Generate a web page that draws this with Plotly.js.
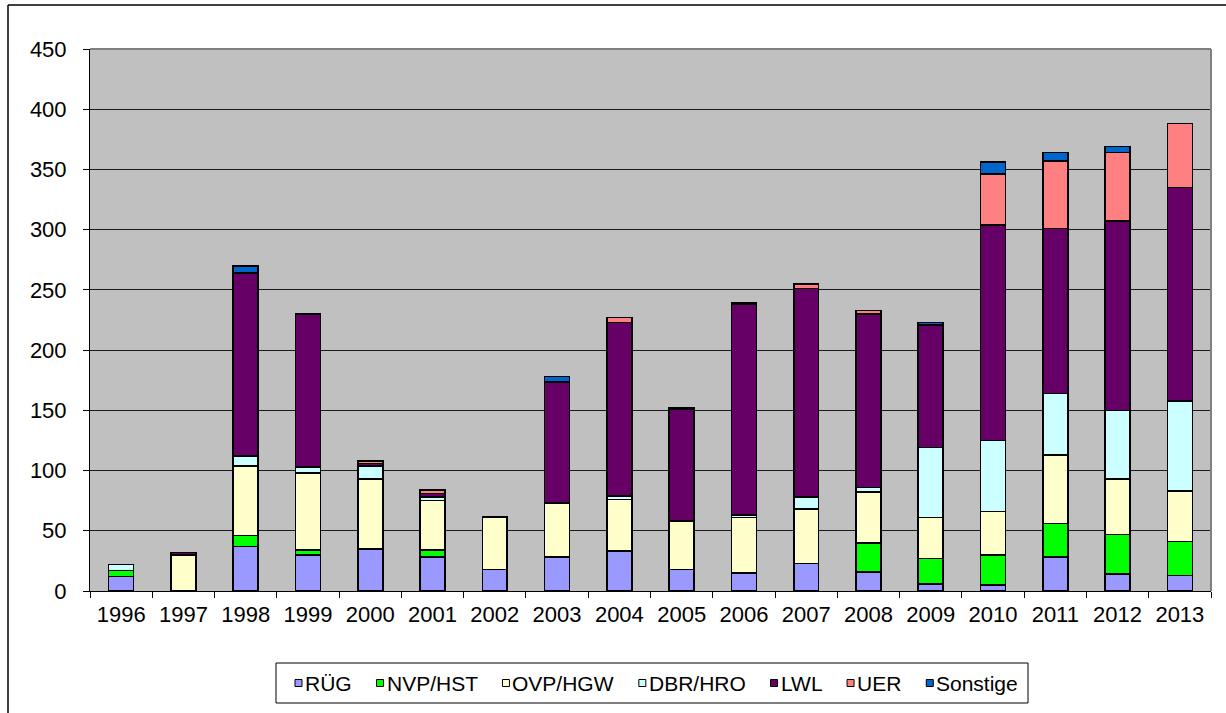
<!DOCTYPE html>
<html>
<head>
<meta charset="utf-8">
<script src="https://cdn.plot.ly/plotly-3.0.1.min.js"></script>
<style>
  html, body { margin: 0; padding: 0; background: #ffffff; }
  #chart { width: 1226px; height: 713px; }
</style>
</head>
<body>
<div id="chart"></div>
<script>
// Jahre (Kategorien)
const years = ['1996','1997','1998','1999','2000','2001','2002','2003','2004',
               '2005','2006','2007','2008','2009','2010','2011','2012','2013'];

// Werte je Region
const rueg    = [12, 0, 37, 30, 35, 28, 18, 28, 33, 18, 15, 23, 16,  6,   5,  28,  14,  13];
const nvpHst  = [ 5, 0,  9,  4,  0,  6,  0,  0,  0,  0,  0,  0, 24, 21,  25,  28,  33,  28];
const ovpHgw  = [ 0,30, 58, 64, 58, 41, 43, 45, 43, 40, 46, 45, 42, 34,  36,  57,  46,  42];
const dbrHro  = [ 5, 0,  8,  5, 11,  3,  0,  0,  3,  0,  2, 10,  4, 58,  59,  51,  57,  75];
const lwl     = [ 0, 2,152,127,  2,  3,  1,100,144, 93,175,173,144,102, 179, 137, 157, 177];
const uer     = [ 0, 0,  0,  0,  2,  3,  0,  1,  4,  1,  0,  4,  3,  0,  42,  56,  57,  53];
const sonstige= [ 0, 0,  6,  0,  0,  0,  0,  4,  0,  0,  1,  0,  0,  2,  10,   7,   5,   0];

const seriesNames  = ['RÜG', 'NVP/HST', 'OVP/HGW', 'DBR/HRO', 'LWL', 'UER', 'Sonstige'];
const seriesValues = [rueg, nvpHst, ovpHgw, dbrHro, lwl, uer, sonstige];
const seriesColors = ['#9999FF', '#00FF00', '#FFFFCC', '#CCFFFF', '#660066', '#FF8080', '#0066CC'];

const FONT = 'Liberation Sans, Arial, sans-serif';

const traces = seriesNames.map((name, i) => ({
  type: 'bar',
  name: name,
  x: years,
  y: seriesValues[i],
  marker: { color: seriesColors[i], line: { color: '#000000', width: 1.6 } },
  showlegend: false
}));

// Seitenmaße und Ränder in Pixeln
const W = 1226, H = 713;
const M = { l: 90, r: 15, t: 49, b: 122 };
const pw = W - M.l - M.r, ph = H - M.t - M.b;
const px = v => (v - M.l) / pw;
const py = v => 1 - (v - M.t) / ph;

// Legende: Kasten unter dem Diagramm, Einträge nebeneinander
const legendBox = { left: 276, right: 1028, top: 663, bottom: 703 };
const legendFontSize = 21;
const legendMidY = 683;
const symbolSize = 7;
const symbolTextGap = 2;
const padLeft = 19, padRight = 11;

const measureCtx = document.createElement('canvas').getContext('2d');
measureCtx.font = legendFontSize + 'px "Liberation Sans"';
const textWidths = seriesNames.map(n => measureCtx.measureText(n).width);
const contentWidth = legendBox.right - legendBox.left - padLeft - padRight;
const usedWidth = textWidths.reduce((s, w) => s + w + symbolSize + symbolTextGap, 0);
const itemGap = (contentWidth - usedWidth) / (seriesNames.length - 1);

const legendShapes = [
  { type: 'rect', xref: 'paper', yref: 'paper',
    x0: px(legendBox.left), x1: px(legendBox.right),
    y0: py(legendBox.bottom), y1: py(legendBox.top),
    fillcolor: '#ffffff', line: { color: '#000000', width: 1 } }
];
const legendTexts = [];
let cursor = legendBox.left + padLeft;
seriesNames.forEach((name, i) => {
  legendShapes.push({
    type: 'rect', xref: 'paper', yref: 'paper',
    x0: px(cursor), x1: px(cursor + symbolSize),
    y0: py(legendMidY + symbolSize / 2), y1: py(legendMidY - symbolSize / 2),
    fillcolor: seriesColors[i], line: { color: '#000000', width: 1 }
  });
  const textX = cursor + symbolSize + symbolTextGap;
  legendTexts.push({
    xref: 'paper', yref: 'paper',
    x: px(textX), y: py(legendMidY),
    xanchor: 'left', yanchor: 'middle',
    text: name, showarrow: false, borderpad: 0,
    font: { family: FONT, size: legendFontSize, color: '#000000' }
  });
  cursor = textX + textWidths[i] + itemGap;
});

const layout = {
  width: W,
  height: H,
  margin: M,
  paper_bgcolor: '#ffffff',
  plot_bgcolor: '#C0C0C0',
  barmode: 'stack',
  bargap: 0.6,
  font: { family: FONT, size: 22, color: '#000000' },
  showlegend: false,
  xaxis: {
    type: 'category',
    tickson: 'boundaries',
    ticks: 'outside',
    ticklen: 6,
    tickcolor: '#000000',
    tickwidth: 1,
    ticklabelstandoff: 4,
    showline: true,
    linecolor: '#000000',
    linewidth: 1,
    showgrid: false,
    zeroline: false,
    fixedrange: true,
    tickfont: { family: FONT, size: 22 }
  },
  yaxis: {
    range: [0, 450],
    dtick: 50,
    tick0: 0,
    ticks: 'outside',
    ticklen: 6,
    tickcolor: '#000000',
    ticklabelstandoff: 12,
    showline: true,
    linecolor: '#000000',
    linewidth: 1,
    showgrid: true,
    gridcolor: '#1a1a1a',
    gridwidth: 1,
    zeroline: false,
    fixedrange: true,
    tickfont: { family: FONT, size: 22 }
  },
  annotations: legendTexts,
  shapes: [
    // Rahmen des Zeichenbereichs oben und rechts
    { type: 'line', xref: 'paper', yref: 'paper', x0: 0, x1: 1, y0: 1, y1: 1,
      line: { color: '#808080', width: 2 }, layer: 'above' },
    { type: 'line', xref: 'paper', yref: 'paper', x0: 1, x1: 1, y0: 0, y1: 1,
      line: { color: '#808080', width: 2 }, layer: 'above' },
    // Diagrammrahmen links und oben
    { type: 'line', xref: 'paper', yref: 'paper', x0: px(8), x1: px(W + 5), y0: py(5), y1: py(5),
      line: { color: '#000000', width: 1.5 } },
    { type: 'line', xref: 'paper', yref: 'paper', x0: px(8), x1: px(8), y0: py(5), y1: py(H + 5),
      line: { color: '#000000', width: 1.5 } }
  ].concat(legendShapes)
};

Plotly.newPlot('chart', traces, layout, { displayModeBar: false, staticPlot: true });
</script>
</body>
</html>
